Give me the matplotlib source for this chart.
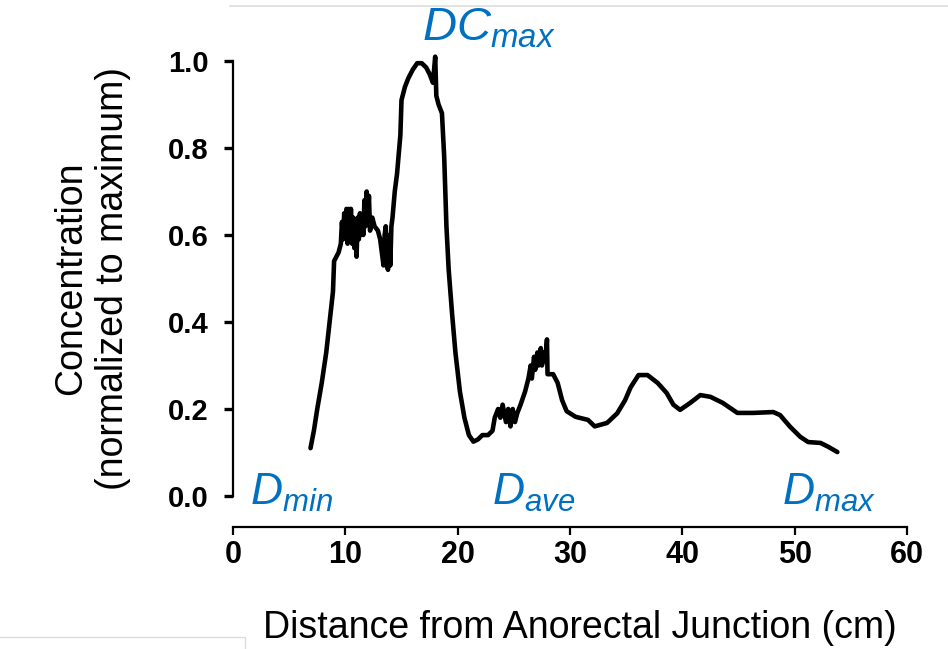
import numpy as np
import matplotlib
matplotlib.use('Agg')
import matplotlib.pyplot as plt
from matplotlib.lines import Line2D

plt.rcParams['font.family'] = ['Liberation Sans', 'DejaVu Sans']
plt.rcParams['mathtext.fontset'] = 'custom'
plt.rcParams['mathtext.rm'] = 'Liberation Sans'
plt.rcParams['mathtext.it'] = 'Liberation Sans:italic'

# distance (cm) and normalized concentration
distance = [6.9, 7.2, 7.5, 7.9, 8.3, 8.6, 8.9, 9.0, 9.4, 9.6, 9.7, 9.8, 9.9, 10.0,
            10.1, 10.2, 10.3, 10.4, 10.5, 10.6, 10.7, 10.8, 10.9, 11.0, 11.1, 11.2,
            11.3, 11.4, 11.5, 11.6, 11.7, 11.8, 11.9, 12.0, 12.1, 12.2, 12.4, 12.6,
            12.9, 13.1, 13.3, 13.4, 13.5, 13.6, 13.7, 13.8, 13.9, 14.0, 14.1, 14.2,
            14.4, 14.6, 14.9, 15.0, 15.3, 15.6, 16.0, 16.4, 16.8, 17.2, 17.5, 17.8,
            18.0, 18.1, 18.3, 18.6, 18.8, 19.0, 19.2, 19.5, 19.8, 20.2, 20.6, 21.0,
            21.4, 21.8, 22.2, 22.7, 23.1, 23.3, 23.6, 23.8, 24.0, 24.3, 24.5, 24.7,
            24.9, 25.1, 25.3, 25.6, 26.0, 26.3, 26.5, 26.6, 26.8, 26.9, 27.1, 27.2,
            27.4, 27.5, 27.7, 27.8, 27.95, 28.0, 28.5, 28.9, 29.3, 29.7, 30.5, 31.6,
            32.2, 33.3, 34.2, 34.9, 35.4, 36.1, 36.9, 37.8, 38.6, 39.2, 39.8, 40.7,
            41.6, 42.5, 43.6, 44.9, 46.3, 48.1, 48.7, 49.6, 50.5, 51.2, 52.3, 53.0,
            53.8]
concentration = [0.11, 0.15, 0.20, 0.26, 0.33, 0.40, 0.47, 0.54, 0.56, 0.58, 0.63, 0.59,
                 0.65, 0.60, 0.66, 0.58, 0.66, 0.61, 0.66, 0.58, 0.64, 0.57, 0.62, 0.55,
                 0.64, 0.59, 0.65, 0.60, 0.63, 0.60, 0.68, 0.62, 0.70, 0.63, 0.69, 0.61,
                 0.64, 0.62, 0.61, 0.59, 0.55, 0.53, 0.60, 0.62, 0.53, 0.52, 0.60, 0.53,
                 0.62, 0.64, 0.70, 0.74, 0.83, 0.91, 0.94, 0.96, 0.98, 0.995, 0.995,
                 0.985, 0.97, 0.95, 1.01, 0.92, 0.90, 0.88, 0.78, 0.62, 0.52, 0.42,
                 0.33, 0.24, 0.18, 0.14, 0.125, 0.13, 0.14, 0.14, 0.15, 0.18, 0.20,
                 0.18, 0.21, 0.17, 0.20, 0.16, 0.20, 0.17, 0.19, 0.21, 0.24, 0.27, 0.30,
                 0.27, 0.32, 0.29, 0.33, 0.30, 0.34, 0.30, 0.33, 0.31, 0.36, 0.28, 0.28,
                 0.26, 0.22, 0.195, 0.182, 0.175, 0.16, 0.168, 0.19, 0.22, 0.25, 0.278,
                 0.278, 0.26, 0.237, 0.21, 0.198, 0.214, 0.232, 0.228, 0.214, 0.191,
                 0.191, 0.193, 0.186, 0.159, 0.136, 0.124, 0.122, 0.113, 0.101]

x_ticks = [0, 10, 20, 30, 40, 50, 60]
y_ticks = [0.0, 0.2, 0.4, 0.6, 0.8, 1.0]
y_tick_labels = ['0.0', '0.2', '0.4', '0.6', '0.8', '1.0']

markers = ['$D_{min}$', '$D_{ave}$', '$D_{max}$', '$DC_{max}$']
marker_x = [1.5, 23.1, 48.9, 16.8]
marker_y = [-0.02, -0.02, -0.02, 1.048]
marker_size = [32, 32, 32, 34]

BLUE = '#0070C0'

fig = plt.figure(figsize=(9.48, 6.49), dpi=100)
ax = fig.add_axes([233 / 948, 153 / 649, 674 / 948, 435 / 649])

ax.plot(distance, concentration, color='black', linewidth=3.3, clip_on=False,
        solid_joinstyle='round', solid_capstyle='round')

ax.set_xlim(0, 60)
ax.set_ylim(0, 1.0)
ax.set_xticks(x_ticks)
ax.set_yticks(y_ticks)
ax.set_yticklabels(y_tick_labels)

for side in ['top', 'right']:
    ax.spines[side].set_visible(False)
ax.spines['left'].set_linewidth(1.6)
ax.spines['bottom'].set_linewidth(1.6)
ax.spines['bottom'].set_position(('outward', 22))
ax.spines['left'].set_bounds(0, 1.0)

ax.tick_params(axis='y', direction='out', length=6.5, width=2.4, pad=11, labelsize=21)
ax.tick_params(axis='x', direction='out', length=5.5, width=1.6, pad=4, labelsize=22)
for lbl in ax.get_xticklabels() + ax.get_yticklabels():
    lbl.set_fontweight('bold')

ax.set_xlabel('Distance from Anorectal Junction (cm)', fontsize=27)
ax.xaxis.set_label_coords(0.515, -0.262)
ax.set_ylabel('Concentration\n(normalized to maximum)', fontsize=27)
ax.yaxis.set_label_coords(-0.152, 0.5)

for text, x, y, s in zip(markers, marker_x, marker_y, marker_size):
    ax.text(x, y, text, color=BLUE, fontsize=s, ha='left', va='baseline',
            clip_on=False)

# faint screenshot border lines
fig.add_artist(Line2D([230 / 948, 1.0], [1 - 6 / 649, 1 - 6 / 649], color='#dddddd', lw=1.2))
fig.add_artist(Line2D([0, 245 / 948, 245 / 948], [1 - 637 / 649, 1 - 637 / 649, 0],
                      color='#dddddd', lw=1.0))

fig.savefig('out.png', dpi=100)
